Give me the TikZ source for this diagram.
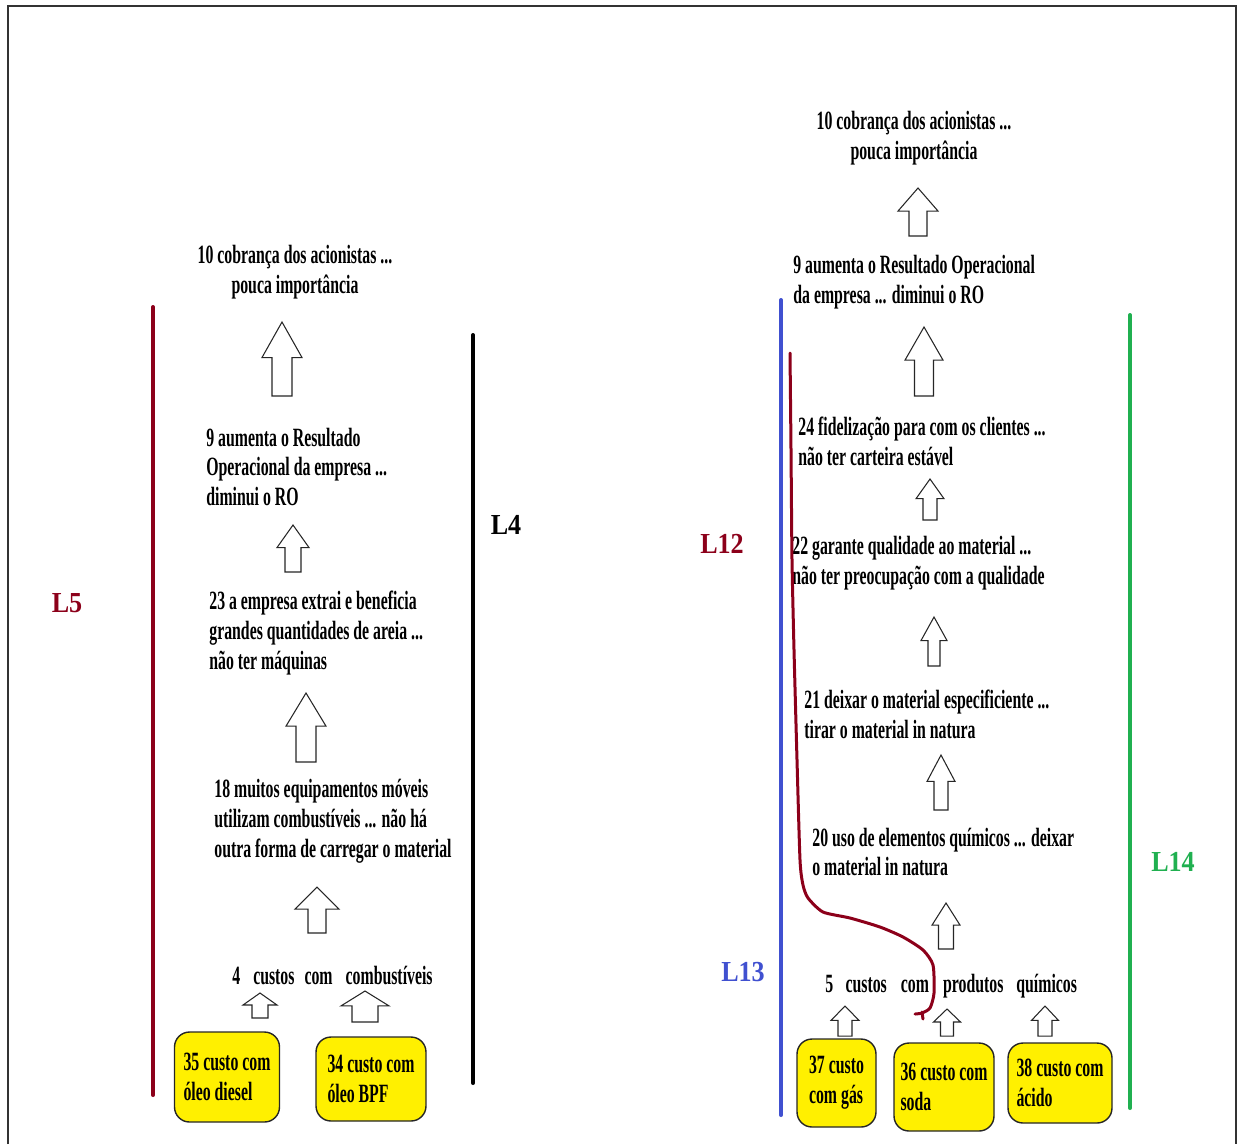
\documentclass[tikz,border=0pt]{standalone}
\usepackage{fontspec}
\setmainfont{Liberation Serif}[FakeStretch=0.6]
\newfontfamily\labfont{Liberation Serif}[FakeStretch=0.9]
\usepackage{tikz}

\definecolor{lfive}{RGB}{140,0,26}
\definecolor{lthirteen}{RGB}{64,80,208}
\definecolor{lfourteen}{RGB}{32,176,80}
\definecolor{boxyellow}{RGB}{255,240,0}

\begin{document}
\begin{tikzpicture}
[x=0.02cm, y=-0.02cm,
 txt/.style={font=\fontsize{15}{17}\selectfont\bfseries, inner sep=0pt, align=left, anchor=west},
 ctxt/.style={txt, align=center, anchor=center},
 lab/.style={font=\fontsize{16.5}{18}\labfont\bfseries, inner sep=0pt},
 box/.style={draw=black!85, fill=boxyellow, rounded corners=0.3cm, line width=0.8pt,
   font=\fontsize{15}{17}\selectfont\bfseries, align=left, inner sep=0pt},
 blockarr/.style={draw=black!85, line width=0.6pt, fill=white},
 vline/.style={line width=0.08cm, line cap=round}]
\useasboundingbox (0,0) rectangle (1239,1144);
\draw[line width=0.04cm, black!80] (8,1144) -- (8,6) -- (1236,6) -- (1236,1144);

\node[ctxt] (tenl) at (295,272) {10 cobrança dos acionistas ...\\pouca importância};
\node[txt] (ninel) at (206,467) {9 aumenta o Resultado\\Operacional da empresa ...\\diminui o RO};
\node[txt] (twentythree) at (209,633) {23 a empresa extrai e beneficia\\grandes quantidades de areia ...\\não ter máquinas};
\node[txt] (eighteen) at (214,821) {18 muitos equipamentos móveis\\utilizam combustíveis ... não há\\outra forma de carregar o material};
\node[txt] (four) at (232,975) {4\hspace{7.4pt}custos\hspace{5.7pt}com\hspace{7.4pt}combustíveis};
\node[box, minimum width=2.1cm, minimum height=1.8cm] (thirtyfive) at (227,1077) {35 custo com\\óleo diesel};
\node[box, minimum width=2.2cm, minimum height=1.68cm] (thirtyfour) at (371,1079) {34 custo com\\óleo BPF};

\node[ctxt] (tenr) at (914,138) {10 cobrança dos acionistas ...\\pouca importância};
\node[txt] (niner) at (793,282) {9 aumenta o Resultado Operacional\\da empresa ... diminui o RO};
\node[txt] (twentyfour) at (798,441) {24 fidelização para com os clientes ...\\não ter carteira estável};
\node[txt] (twentytwo) at (792,563) {22 garante qualidade ao material ...\\não ter preocupação com a qualidade};
\node[txt] (twentyone) at (804,714) {21 deixar o material especificiente ...\\tirar o material in natura};
\node[txt] (twenty) at (812,852) {20 uso de elementos químicos ... deixar\\o material in natura};
\node[txt] (five) at (825,986) {5\hspace{7pt}custos\hspace{8pt}com\hspace{8pt}produtos\hspace{7.4pt}químicos};
\node[box, minimum width=1.58cm, minimum height=1.76cm] (thirtyseven) at (836.5,1083) {37 custo\\com gás};
\node[box, minimum width=2.0cm, minimum height=1.76cm] (thirtysix) at (944,1087) {36 custo com\\soda};
\node[box, minimum width=2.08cm, minimum height=1.6cm] (thirtyeight) at (1060,1083) {38 custo com\\ácido};

\foreach \x/\t/\b/\h/\s in {282/322/396/20/10, 293/525/572/16/8, 306/693/762/20/10,
  317/887/933/22/9, 260/993/1018/17/8, 365/991/1022/24/13,
  918/188/236/20/9, 924/327/396/19/9.5, 930/479/520/14/7, 934/617/666/13/6,
  941/755/810/14/7, 946/903/949/14/7.5, 845/1006/1036/14/7, 947/1009/1036/13.5/6.5,
  1045/1006/1036/13.5/7}{
  \draw[blockarr] ({\x-\s},\b) -- ({\x-\s},{\t+0.48*(\b-\t)}) -- ({\x-\h},{\t+0.48*(\b-\t)})
    -- (\x,\t) -- ({\x+\h},{\t+0.48*(\b-\t)}) -- ({\x+\s},{\t+0.48*(\b-\t)}) -- ({\x+\s},\b) -- cycle;
}

\draw[vline, lfive] (153,307) -- (153,1095);
\draw[vline, black] (473,335) -- (473,1083);
\draw[vline, lthirteen] (781,300) -- (781,1115);
\draw[vline, lfourteen] (1130,315) -- (1130,1108);
\draw[lfive, line width=0.06cm, line cap=round, line join=round] plot[smooth, tension=0.4] coordinates {
  (790,353) (791,450) (792,560) (794,650) (797,760) (800,860) (803,885) (808,898)
  (823,912) (850,918) (880,927) (903,937) (923,950) (933,965) (934,993) (930,1008)
  (922,1013) (915,1014)};
\draw[lfive, line width=0.06cm, line cap=round] (922,1012) -- (923,1019);

\node[lab, lfive] (lfivelab) at (67,603) {L5};
\node[lab, black] (lfourlab) at (506,525) {L4};
\node[lab, lfive] (ltwelvelab) at (722,544) {L12};
\node[lab, lthirteen] (lthirteenlab) at (743,972) {L13};
\node[lab, lfourteen] (lfourteenlab) at (1173,862) {L14};
\end{tikzpicture}
\end{document}
